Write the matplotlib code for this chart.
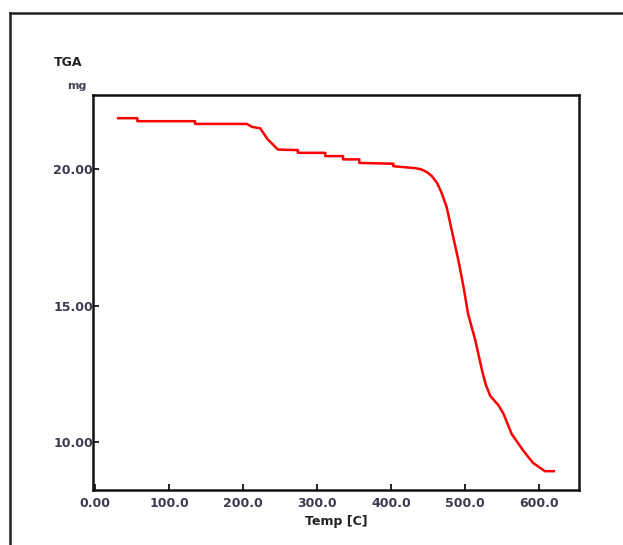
import matplotlib
matplotlib.use("Agg")
import matplotlib.pyplot as plt
from matplotlib.lines import Line2D
from matplotlib.transforms import Bbox, TransformedBbox

# TGA curve
temp = [31, 57, 57, 135, 135, 205, 212, 223, 233, 247, 274, 274, 311, 311, 335, 335,
        357, 357, 403, 403, 432, 440, 448, 455, 462, 468, 475, 484, 491, 498, 504, 514, 523,
        528, 534, 545, 552, 563, 579, 592, 608, 620]
mass = [21.87, 21.87, 21.76, 21.76, 21.66, 21.66, 21.55, 21.50, 21.10, 20.72, 20.70, 20.60,
        20.60, 20.48, 20.48, 20.36, 20.36, 20.23, 20.20, 20.11, 20.04, 20.00, 19.90, 19.75, 19.50,
        19.15, 18.62, 17.51, 16.65, 15.67, 14.70, 13.71, 12.61, 12.10, 11.69, 11.35, 11.03,
        10.29, 9.67, 9.23, 8.93, 8.93]
xticks = [0, 100, 200, 300, 400, 500, 600]
xlabels = ["0.00", "100.0", "200.0", "300.0", "400.0", "500.0", "600.0"]
yticks = [10, 15, 20]
ylabels = ["10.00", "15.00", "20.00"]

W, H = 623, 545
fig = plt.figure(figsize=(W / 100, H / 100), dpi=100)
ax = fig.add_axes([93 / W, 1 - 490 / H, (579 - 93) / W, (490 - 95) / H])
ax.plot(temp, mass, color="#ff0000", lw=1.8)
ax.set_xlim(-3, 654)
ax.set_ylim(8.24, 22.72)

ax.set_xticks(xticks)
ax.set_xticklabels(xlabels)
ax.set_yticks(yticks)
ax.set_yticklabels(ylabels)
ax.tick_params(axis="both", direction="in", length=4, width=1.2, labelsize=9)
ax.tick_params(axis="x", pad=5)
ax.tick_params(axis="y", pad=0)
for lab in ax.get_xticklabels() + ax.get_yticklabels():
    lab.set_fontweight("bold")
    lab.set_color("#3a3a50")
for s in ax.spines.values():
    s.set_linewidth(1.8)
    s.set_color("#111111")

ax.set_xlabel("Temp [C]", fontsize=9, fontweight="bold", labelpad=4, color="#222222")

t1 = fig.text(54 / W, 1 - 62 / H, "TGA", fontsize=9, fontweight="bold",
              va="center", ha="left", color="#222222")
t1.set_clip_box(TransformedBbox(Bbox([[0, 0], [82 / W, 1]]), fig.transFigure))
t2 = fig.text(67 / W, 1 - 86 / H, "mg", fontsize=8, fontweight="bold",
              va="center", ha="left", color="#444455")
t2.set_clip_box(TransformedBbox(Bbox([[0, 0], [93 / W, 1]]), fig.transFigure))

# outer frame
fig.add_artist(Line2D([10 / W, 10 / W], [0, 1 - 13 / H], color="#222222", lw=1.8))
fig.add_artist(Line2D([10 / W, 1], [1 - 13 / H, 1 - 13 / H], color="#222222", lw=1.8))

fig.savefig("out.png", dpi=100)
